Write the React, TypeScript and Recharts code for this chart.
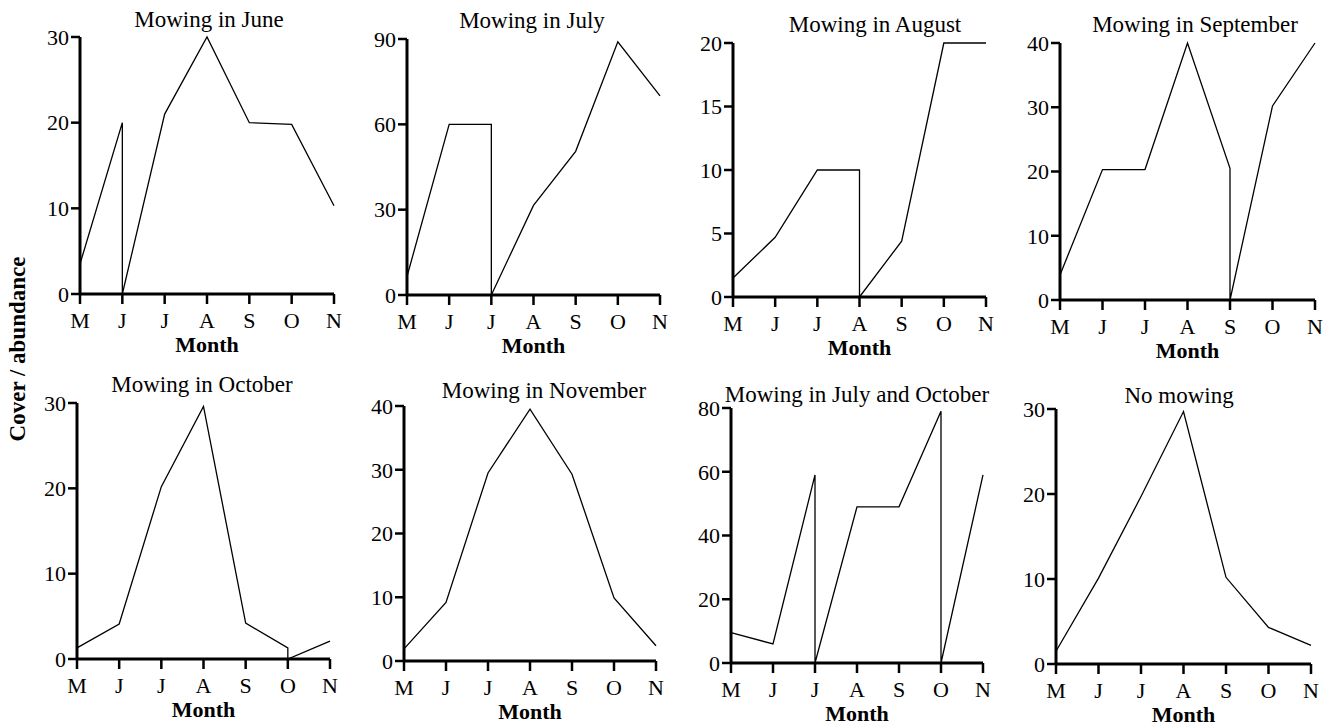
import { Line, LineChart, XAxis, YAxis, Label } from 'recharts';

const MONTHS = ['M', 'J', 'J', 'A', 'S', 'O', 'N'];

// cover/abundance per month; "mown" = month index where the value drops to 0
const juneValues = [3.5, 20, 21, 30, 20, 19.8, 10.3];
const juneMown = [1];
const julyValues = [6.5, 60, 60, 31.5, 50.5, 89, 70];
const julyMown = [2];
const augustValues = [1.5, 4.7, 10, 10, 4.4, 20, 20];
const augustMown = [3];
const septemberValues = [3.9, 20.3, 20.3, 40, 20.5, 30.2, 40];
const septemberMown = [4];
const octoberValues = [1.3, 4.1, 20.2, 29.6, 4.2, 1.3, 2.1];
const octoberMown = [5];
const novemberValues = [1.9, 9.2, 29.5, 39.5, 29.3, 9.9, 2.4];
const novemberMown: number[] = [];
const julyOctValues = [9.5, 6, 59, 49, 49, 79, 59];
const julyOctMown = [2, 5];
const noMowingValues = [1.5, 10.1, 19.7, 29.7, 10.2, 4.3, 2.2];
const noMowingMown: number[] = [];

const TITLES = [
  'Mowing in June',
  'Mowing in July',
  'Mowing in August',
  'Mowing in September',
  'Mowing in October',
  'Mowing in November',
  'Mowing in July and October',
  'No mowing',
];

const Y_TICKS = [
  [0, 10, 20, 30],
  [0, 30, 60, 90],
  [0, 5, 10, 15, 20],
  [0, 10, 20, 30, 40],
  [0, 10, 20, 30],
  [0, 10, 20, 30, 40],
  [0, 20, 40, 60, 80],
  [0, 10, 20, 30],
];

const SERIES = [
  [juneValues, juneMown],
  [julyValues, julyMown],
  [augustValues, augustMown],
  [septemberValues, septemberMown],
  [octoberValues, octoberMown],
  [novemberValues, novemberMown],
  [julyOctValues, julyOctMown],
  [noMowingValues, noMowingMown],
] as [number[], number[]][];

// plot area boxes: left, top, right, bottom (px on page)
const BOXES = [
  [80, 37, 334, 294],
  [407, 39, 660, 295],
  [733, 43, 986, 297],
  [1060, 43, 1315, 300],
  [77, 403, 330, 659],
  [404, 406, 656, 661],
  [731, 408, 983, 663],
  [1056, 409, 1311, 664],
];

const TITLE_POS = [
  [209, 27], [532, 28], [875, 32], [1195, 32],
  [202, 392], [544, 398], [857, 402], [1179, 403],
];

const FONT = '"Liberation Serif", "Times New Roman", serif';
const ML = 60;
const MT = 20;
const MR = 20;
const XH = 74;

const buildPoints = (values: number[], mown: number[]) => {
  const pts: { x: number; y: number }[] = [];
  values.forEach((v, i) => {
    pts.push({ x: i, y: v });
    if (mown.includes(i)) pts.push({ x: i, y: 0 });
  });
  return pts;
};

const Panel = ({ idx }: { idx: number }) => {
  const [l, t, r, b] = BOXES[idx];
  const [values, mown] = SERIES[idx];
  const ticks = Y_TICKS[idx];
  const data = buildPoints(values, mown);
  const w = r - l + ML + MR;
  const h = b - t + MT + XH;
  const tickStyle = { fill: '#000', fontSize: 22, fontFamily: FONT };
  return (
    <div style={{ position: 'absolute', left: l - ML, top: t - MT, width: w, height: h }}>
      <LineChart width={w} height={h} data={data} margin={{ top: MT, right: MR, left: 0, bottom: 0 }}>
        <XAxis
          dataKey="x"
          type="number"
          domain={[0, 6]}
          ticks={[0, 1, 2, 3, 4, 5, 6]}
          tickFormatter={(v: number) => MONTHS[v]}
          interval={0}
          height={XH}
          tick={tickStyle}
          tickSize={10}
          tickMargin={8}
          axisLine={{ stroke: '#000', strokeWidth: 3 }}
          tickLine={{ stroke: '#000', strokeWidth: 2.5 }}
        >
          <Label
            value="Month"
            position="insideBottom"
            offset={16}
            fill="#000"
            fontSize={22}
            fontWeight="bold"
            fontFamily={FONT}
          />
        </XAxis>
        <YAxis
          type="number"
          domain={[0, ticks[ticks.length - 1]]}
          ticks={ticks}
          interval={0}
          width={ML}
          tick={tickStyle}
          tickSize={9}
          tickMargin={2}
          axisLine={{ stroke: '#000', strokeWidth: 3 }}
          tickLine={{ stroke: '#000', strokeWidth: 2.5 }}
        />
        <Line
          type="linear"
          dataKey="y"
          stroke="#000"
          strokeWidth={1.3}
          dot={false}
          activeDot={false}
          isAnimationActive={false}
        />
      </LineChart>
    </div>
  );
};

export default function App() {
  return (
    <div style={{ position: 'absolute', left: 0, top: 0, width: 1337, height: 727, background: '#fff' }}>
      {BOXES.map((_, i) => (
        <Panel key={i} idx={i} />
      ))}
      <svg
        width={1337}
        height={727}
        style={{ position: 'absolute', left: 0, top: 0, pointerEvents: 'none' }}
      >
        {TITLES.map((title, i) => (
          <text
            key={title}
            x={TITLE_POS[i][0]}
            y={TITLE_POS[i][1]}
            textAnchor="middle"
            fontFamily={FONT}
            fontSize={23}
            fill="#000"
          >
            {title}
          </text>
        ))}
        <text
          x={0}
          y={0}
          transform="translate(25, 349) rotate(-90)"
          textAnchor="middle"
          fontFamily={FONT}
          fontSize={23}
          fontWeight="bold"
          fill="#000"
        >
          Cover / abundance
        </text>
      </svg>
    </div>
  );
}
